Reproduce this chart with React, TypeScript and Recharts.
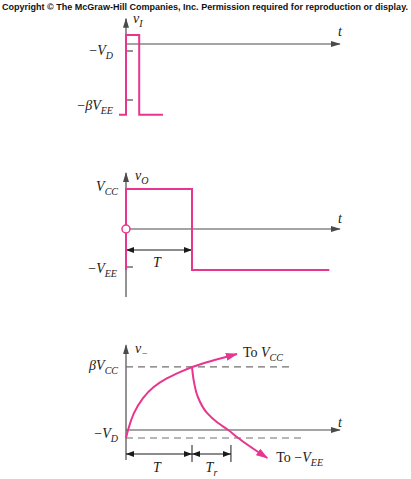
import React from "react";
import { LineChart, Line, XAxis, YAxis, ReferenceLine, ReferenceDot } from "recharts";

const PINK = "#e8368f";
const AXIS = "#4a4a4a";
const DASH = "#707070";
const INK = "#1a1a1a";
const SERIF = "'Liberation Serif', 'DejaVu Serif', serif";

// time runs in units of T and is shared by the three panels
const T_MIN = -1.909;
const T_MAX = 4.318;
const AXIS_END = 3.24;

// panel 1: input pulse v_I
const inPulseT = [-0.106, 0, 0, 0.2, 0.2, 0.56];
const inPulseV = [-10.1, -10.1, 1.3, 1.3, -10.1, -10.1];
const inAxisV = [-10.1, 3.6];
const inTicksV = [-1, -8]; // -V_D, -beta V_EE

// panel 2: output v_O
const outT = [0, 0, 1, 1, 3.08];
const outV = [-10.25, 10, 10, -10.25, -10.25];
const outAxisV = [-17, 14];
const outTickV = -9.5; // -V_EE
const outDimV = -5.25;

// panel 3: v_- charging and discharging
const riseT = [0, 0.03, 0.106, 0.258, 0.41, 0.62, 0.82, 1, 1.27, 1.68];
const riseV = [-1, 0, 2.1, 4.1, 5.4, 6.5, 7.25, 7.9, 8.6, 9.5];
const fallT = [1, 1.03, 1.09, 1.23, 1.39, 1.55, 1.68, 2.14];
const fallV = [7.9, 6, 4.1, 2.1, 0.9, 0, -0.875, -3.5];
const minusAxisV = [-3.75, 10.6];
const dashV = [7.9, -1]; // beta V_CC, -V_D
const dashEndT = [2.53, 2.67];
const T_R = 1.59;
const dimV = -3;
const dimTickV = [-1.875, -4];

const zip = (ts: number[], vs: number[]) => ts.map((t, i) => ({ t, v: vs[i] }));
const seg = (t0: number, v0: number, t1: number, v1: number) => [
  { t: t0, v: v0 },
  { t: t1, v: v1 },
];

type Part = { s: string; i?: boolean; sub?: boolean };
const r = (s: string): Part => ({ s });
const it = (s: string): Part => ({ s, i: true });
const sb = (s: string): Part => ({ s, i: true, sub: true });

function Lbl(props: any) {
  const { viewBox, parts, dx = 0, dy = 0, anchor = "start" } = props;
  if (!viewBox) return null;
  const x = viewBox.x + (viewBox.width || 0) / 2 + dx;
  const y = viewBox.y + (viewBox.height || 0) / 2 + dy;
  let shift = 0;
  return (
    <text x={x} y={y} textAnchor={anchor} fontFamily={SERIF} fontSize={14} fill={INK}>
      {parts.map((p: Part, k: number) => {
        const want = p.sub ? 4 : 0;
        const d = want - shift;
        shift = want;
        return (
          <tspan key={k} dy={d} fontSize={p.sub ? 10 : 14} fontStyle={p.i ? "italic" : "normal"}>
            {p.s}
          </tspan>
        );
      })}
    </text>
  );
}

const panels = {
  p1: { top: 0, h: 140, zero: 44, ppu: 7 },
  p2: { top: 150, h: 160, zero: 79, ppu: 4 },
  p3: { top: 330, h: 149, zero: 100, ppu: 8 },
};

const yDom = (p: { h: number; zero: number; ppu: number }) => [-(p.h - p.zero) / p.ppu, p.zero / p.ppu];

const axisLine = { stroke: AXIS, strokeWidth: 1.2, dot: false, isAnimationActive: false, type: "linear" as const };

export default function App() {
  const { p1, p2, p3 } = panels;
  const chartStyle = (p: { top: number }) => ({ position: "absolute" as const, left: 0, top: p.top });
  return (
    <div style={{ position: "absolute", left: 0, top: 0, width: 411, height: 479, background: "#fff", overflow: "hidden" }}>
      <svg width={0} height={0} style={{ position: "absolute" }}>
        <defs>
          <marker id="ahAxis" viewBox="0 0 10 6" refX="9" refY="3" markerWidth="10" markerHeight="6" markerUnits="userSpaceOnUse" orient="auto-start-reverse">
            <path d="M0,0 L10,3 L0,6 z" fill={AXIS} />
          </marker>
          <marker id="ahDim" viewBox="0 0 8 6" refX="8" refY="3" markerWidth="8" markerHeight="6" markerUnits="userSpaceOnUse" orient="auto-start-reverse">
            <path d="M0,0 L8,3 L0,6 z" fill={INK} />
          </marker>
          <marker id="ahPink" viewBox="0 0 12 8" refX="11" refY="4" markerWidth="12" markerHeight="8" markerUnits="userSpaceOnUse" orient="auto">
            <path d="M0,0 L12,4 L0,8 z" fill={PINK} />
          </marker>
        </defs>
      </svg>

      {/* panel 1 */}
      <LineChart width={411} height={p1.h} margin={{ top: 0, right: 0, bottom: 0, left: 0 }} style={chartStyle(p1)}>
        <XAxis type="number" dataKey="t" domain={[T_MIN, T_MAX]} hide allowDataOverflow />
        <YAxis type="number" dataKey="v" domain={yDom(p1)} hide allowDataOverflow />
        <Line {...axisLine} data={seg(0, inAxisV[0], 0, inAxisV[1])} dataKey="v" markerEnd="url(#ahAxis)" />
        <Line {...axisLine} data={seg(0, 0, AXIS_END, 0)} dataKey="v" markerEnd="url(#ahAxis)" />
        {inTicksV.map((v) => (
          <ReferenceLine key={v} segment={[{ x: 0, y: v }, { x: 0.106, y: v }]} stroke={AXIS} strokeWidth={1.2} />
        ))}
        <Line data={zip(inPulseT, inPulseV)} dataKey="v" type="linear" stroke={PINK} strokeWidth={2} dot={false} isAnimationActive={false} />
        <ReferenceDot x={0} y={inAxisV[1]} r={0} fill="none" stroke="none" label={<Lbl parts={[it("v"), sb("I")]} dx={7} dy={4} />} />
        <ReferenceDot x={AXIS_END} y={0} r={0} fill="none" stroke="none" label={<Lbl parts={[it("t")]} anchor="middle" dy={-8} />} />
        <ReferenceDot x={0} y={inTicksV[0]} r={0} fill="none" stroke="none" label={<Lbl parts={[r("−"), it("V"), sb("D")]} anchor="end" dx={-13} dy={4} />} />
        <ReferenceDot x={0} y={inTicksV[1]} r={0} fill="none" stroke="none" label={<Lbl parts={[r("−"), it("β"), it("V"), sb("EE")]} anchor="end" dx={-13} dy={10} />} />
      </LineChart>

      {/* panel 2 */}
      <LineChart width={411} height={p2.h} margin={{ top: 0, right: 0, bottom: 0, left: 0 }} style={chartStyle(p2)}>
        <XAxis type="number" dataKey="t" domain={[T_MIN, T_MAX]} hide allowDataOverflow />
        <YAxis type="number" dataKey="v" domain={yDom(p2)} hide allowDataOverflow />
        <Line {...axisLine} data={seg(0, outAxisV[0], 0, outAxisV[1])} dataKey="v" markerEnd="url(#ahAxis)" />
        <Line {...axisLine} data={seg(0, 0, AXIS_END, 0)} dataKey="v" markerEnd="url(#ahAxis)" />
        <ReferenceLine segment={[{ x: 0, y: outTickV }, { x: 0.106, y: outTickV }]} stroke={AXIS} strokeWidth={1.2} />
        <Line data={seg(0, outDimV, 1, outDimV)} dataKey="v" type="linear" stroke={INK} strokeWidth={1.1} dot={false} isAnimationActive={false} markerStart="url(#ahDim)" markerEnd="url(#ahDim)" />
        <Line data={zip(outT, outV)} dataKey="v" type="linear" stroke={PINK} strokeWidth={2} dot={false} isAnimationActive={false} />
        <Line data={[{ t: 0, v: 0 }]} dataKey="v" stroke={PINK} dot={{ r: 4, fill: "#fff", stroke: PINK, strokeWidth: 1.5 }} isAnimationActive={false} />
        <ReferenceDot x={0} y={outAxisV[1]} r={0} fill="none" stroke="none" label={<Lbl parts={[it("v"), sb("O")]} dx={9} dy={7} />} />
        <ReferenceDot x={AXIS_END} y={0} r={0} fill="none" stroke="none" label={<Lbl parts={[it("t")]} anchor="middle" dy={-6} />} />
        <ReferenceDot x={0} y={outV[1]} r={0} fill="none" stroke="none" label={<Lbl parts={[it("V"), sb("CC")]} anchor="end" dx={-8} dy={2} />} />
        <ReferenceDot x={0} y={outTickV} r={0} fill="none" stroke="none" label={<Lbl parts={[r("−"), it("V"), sb("EE")]} anchor="end" dx={-9} dy={6} />} />
        <ReferenceDot x={0.5} y={outDimV} r={0} fill="none" stroke="none" label={<Lbl parts={[it("T")]} anchor="middle" dx={-2} dy={17} />} />
      </LineChart>

      {/* panel 3 */}
      <LineChart width={411} height={p3.h} margin={{ top: 0, right: 0, bottom: 0, left: 0 }} style={chartStyle(p3)}>
        <XAxis type="number" dataKey="t" domain={[T_MIN, T_MAX]} hide allowDataOverflow />
        <YAxis type="number" dataKey="v" domain={yDom(p3)} hide allowDataOverflow />
        <Line {...axisLine} data={seg(0, minusAxisV[0], 0, minusAxisV[1])} dataKey="v" markerEnd="url(#ahAxis)" />
        <Line {...axisLine} data={seg(0, 0, AXIS_END, 0)} dataKey="v" markerEnd="url(#ahAxis)" />
        {dashV.map((v, i) => (
          <ReferenceLine key={v} segment={[{ x: 0, y: v }, { x: dashEndT[i], y: v }]} stroke={DASH} strokeWidth={1.2} strokeDasharray="7 5" />
        ))}
        {[1, T_R].map((t) => (
          <ReferenceLine key={t} segment={[{ x: t, y: dimTickV[0] }, { x: t, y: dimTickV[1] }]} stroke={INK} strokeWidth={1} />
        ))}
        <Line data={seg(0, dimV, 1, dimV)} dataKey="v" type="linear" stroke={INK} strokeWidth={1.1} dot={false} isAnimationActive={false} markerStart="url(#ahDim)" markerEnd="url(#ahDim)" />
        <Line data={seg(1, dimV, T_R, dimV)} dataKey="v" type="linear" stroke={INK} strokeWidth={1.1} dot={false} isAnimationActive={false} markerStart="url(#ahDim)" markerEnd="url(#ahDim)" />
        <Line data={zip(riseT, riseV)} dataKey="v" type="basis" stroke={PINK} strokeWidth={2} dot={false} isAnimationActive={false} markerEnd="url(#ahPink)" />
        <Line data={zip(fallT, fallV)} dataKey="v" type="monotoneY" stroke={PINK} strokeWidth={2} dot={false} isAnimationActive={false} markerEnd="url(#ahPink)" />
        <ReferenceDot x={0} y={minusAxisV[1]} r={0} fill="none" stroke="none" label={<Lbl parts={[it("v"), sb("−")]} dx={9} dy={8} />} />
        <ReferenceDot x={AXIS_END} y={0} r={0} fill="none" stroke="none" label={<Lbl parts={[it("t")]} anchor="middle" dy={-3} />} />
        <ReferenceDot x={0} y={dashV[0]} r={0} fill="none" stroke="none" label={<Lbl parts={[it("β"), it("V"), sb("CC")]} anchor="end" dx={-8} dy={3} />} />
        <ReferenceDot x={0} y={dashV[1]} r={0} fill="none" stroke="none" label={<Lbl parts={[r("−"), it("V"), sb("D")]} anchor="end" dx={-8} dy={0} />} />
        <ReferenceDot x={riseT[riseT.length - 1]} y={riseV[riseV.length - 1]} r={0} fill="none" stroke="none" label={<Lbl parts={[r("To "), it("V"), sb("CC")]} dx={6} dy={3} />} />
        <ReferenceDot x={fallT[fallT.length - 1]} y={fallV[fallV.length - 1]} r={0} fill="none" stroke="none" label={<Lbl parts={[r("To −"), it("V"), sb("EE")]} dx={9} dy={4} />} />
        <ReferenceDot x={0.5} y={dimV} r={0} fill="none" stroke="none" label={<Lbl parts={[it("T")]} anchor="middle" dx={-2} dy={18} />} />
        <ReferenceDot x={(1 + T_R) / 2} y={dimV} r={0} fill="none" stroke="none" label={<Lbl parts={[it("T"), sb("r")]} anchor="middle" dy={18} />} />
      </LineChart>

      <svg width={411} height={14} style={{ position: "absolute", left: 0, top: 0 }}>
        <text x={2} y={9.8} textLength={406} lengthAdjust="spacingAndGlyphs" fontFamily="'Liberation Sans', Arial, sans-serif" fontWeight="bold" fontSize={9} fill="#111">
          Copyright © The McGraw-Hill Companies, Inc. Permission required for reproduction or display.
        </text>
      </svg>
    </div>
  );
}
